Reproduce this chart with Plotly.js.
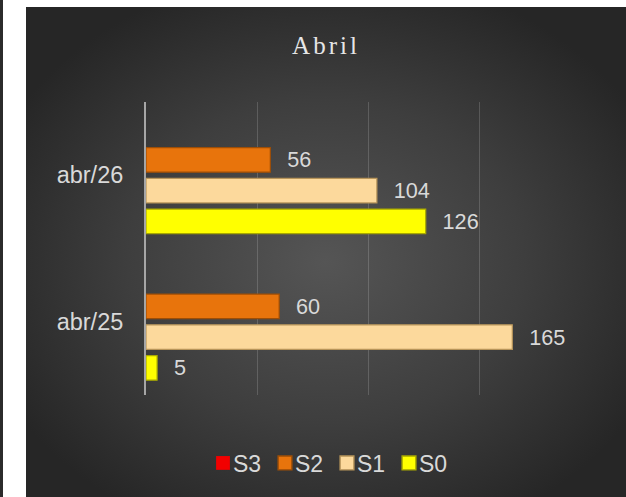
<!DOCTYPE html>
<html>
<head>
<meta charset="utf-8">
<script src="https://cdn.plot.ly/plotly-3.0.1.min.js"></script>
<style>
  html, body { margin: 0; padding: 0; background: #ffffff; width: 626px; height: 497px; overflow: hidden; }
  #strip { position: absolute; left: 0; top: 0; width: 3px; height: 497px; background: #2b2b2b; }
  #bg { position: absolute; left: 26px; top: 7px; width: 600px; height: 490px;
        background: radial-gradient(ellipse 60% 60% at 50% 52%, #555555 0%, #3e3e3e 55%, #262626 100%); }
  #chart { position: absolute; left: 0; top: 0; width: 626px; height: 497px; }
  .gtitle { letter-spacing: 3px; }
</style>
</head>
<body>
<div id="strip"></div>
<div id="bg"></div>
<div id="chart"></div>
<script>
const categories = ['abr/25', 'abr/26'];
const seriesNames = ['S0', 'S1', 'S2', 'S3'];
const S0 = [5, 126];
const S1 = [165, 104];
const S2 = [60, 56];
const S3 = [0, 0];
const seriesValues = [S0, S1, S2, S3];

const fills = ['#FFFF00', '#FCD99C', '#E8740C', '#F20000'];
const edges = ['#A8A800', '#B8955A', '#9E4E06', '#8E0000'];
const pad = '\u00a0\u00a0\u200a';

const traces = seriesNames.map((name, i) => ({
  type: 'bar',
  orientation: 'h',
  name: name,
  y: categories,
  x: seriesValues[i],
  text: seriesValues[i].map(v => (name === 'S3' ? '' : pad + v)),
  textposition: 'outside',
  cliponaxis: false,
  textfont: { family: 'Liberation Sans, Arial, sans-serif', size: 22, color: '#D9D9D9' },
  marker: { color: fills[i], line: { color: edges[i], width: name === 'S3' ? 0 : 1.2 } },
  hoverinfo: 'none'
}));

const layout = {
  width: 626, height: 497,
  paper_bgcolor: 'rgba(0,0,0,0)',
  plot_bgcolor: 'rgba(0,0,0,0)',
  margin: { l: 146, r: 36, t: 102, b: 102 },
  barmode: 'group',
  bargap: 0.16,
  bargroupgap: 0.2,
  showlegend: true,
  title: {
    text: 'Abril',
    font: { family: 'Liberation Serif, Times New Roman, serif', size: 25, color: '#E6E6E6' },
    x: 326 / 626, xref: 'container', xanchor: 'center',
    y: 1 - 45 / 497, yref: 'container', yanchor: 'middle'
  },
  xaxis: {
    range: [0, 200], dtick: 50, showticklabels: false, ticks: '',
    showgrid: true, gridcolor: 'rgba(255,255,255,0.16)', gridwidth: 1,
    zeroline: false, showline: false, fixedrange: true
  },
  yaxis: {
    type: 'category', categoryorder: 'array', categoryarray: categories,
    showgrid: false, zeroline: false,
    showline: true, linecolor: '#A6A6A6', linewidth: 2,
    ticks: '', ticklabelstandoff: 16,
    tickfont: { family: 'Liberation Sans, Arial, sans-serif', size: 23.5, color: '#D9D9D9' },
    fixedrange: true
  },
  legend: {
    orientation: 'h', traceorder: 'reversed',
    x: 317 / 626, xref: 'container', xanchor: 'center',
    y: 1 - 463 / 497, yref: 'container', yanchor: 'middle',
    font: { family: 'Liberation Sans, Arial, sans-serif', size: 23, color: '#D9D9D9' },
    itemwidth: 30, entrywidth: 17, entrywidthmode: 'pixels',
    tracegroupgap: 0, bgcolor: 'rgba(0,0,0,0)'
  }
};

Plotly.newPlot('chart', traces, layout, { staticPlot: true, displayModeBar: false }).then(gd => {
  gd.querySelectorAll('.legend .traces .legendpoints').forEach(el => {
    el.setAttribute('transform', 'translate(7,0) scale(1.15)');
  });
  gd.querySelectorAll('.legend [clip-path]').forEach(el => el.removeAttribute('clip-path'));
});
</script>
</body>
</html>
